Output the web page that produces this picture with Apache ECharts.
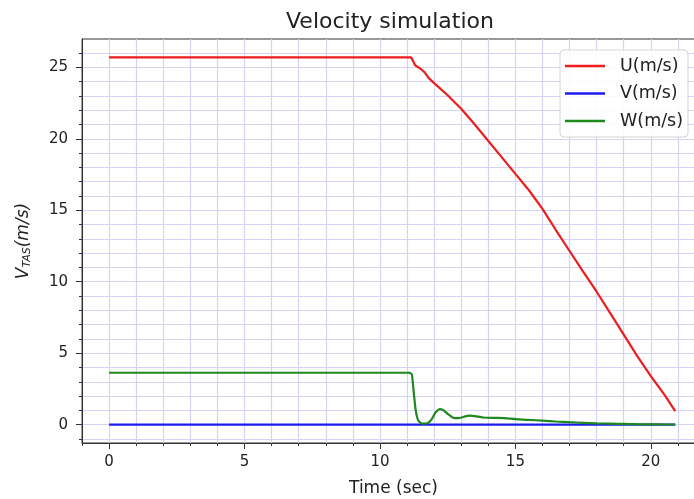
<!DOCTYPE html>
<html>
<head>
<meta charset="utf-8">
<script src="https://cdn.jsdelivr.net/npm/echarts@6/dist/echarts.min.js"></script>
<style>
    html, body { margin: 0; padding: 0; background: #fff; overflow: hidden; }
    #main { width: 694px; height: 499px; }
</style>
</head>
<body>
<div id="main"></div>
<script>
    // readings: time in sec, velocities in m/s
    var uTime = [0, 11.0, 11.15, 11.3, 11.5, 11.65, 11.8, 12.0, 12.5, 13.0, 13.5, 14.0, 14.5, 15.0, 15.5, 16.0, 16.5, 17.0, 17.5, 18.0, 18.5, 19.0, 19.5, 20.0, 20.5, 20.9];
    var uVals = [25.7, 25.7, 25.7, 25.15, 24.9, 24.65, 24.25, 23.9, 23.05, 22.1, 21.0, 19.85, 18.7, 17.55, 16.4, 15.1, 13.6, 12.15, 10.7, 9.3, 7.8, 6.3, 4.8, 3.4, 2.1, 0.95];

    var vTime = [0, 5, 10, 15, 20, 20.9];
    var vVals = [0, 0, 0, 0, 0, 0];

    var wTime = [0, 11.1, 11.18, 11.25, 11.32, 11.4, 11.5, 11.6, 11.75, 11.9, 12.05, 12.2, 12.35, 12.5, 12.7, 12.9, 13.1, 13.3, 13.5, 13.8, 14.2, 14.6, 15.0, 15.5, 16.0, 16.5, 17.0, 17.5, 18.0, 18.5, 19.0, 19.5, 20.0, 20.5, 20.9];
    var wVals = [3.63, 3.63, 3.5, 2.2, 1.0, 0.35, 0.12, 0.07, 0.09, 0.35, 0.85, 1.08, 1.0, 0.75, 0.48, 0.45, 0.55, 0.63, 0.6, 0.5, 0.47, 0.46, 0.38, 0.33, 0.28, 0.22, 0.17, 0.13, 0.09, 0.07, 0.05, 0.03, 0.02, 0.01, 0.01];

    var xMajor = [0, 5, 10, 15, 20];
    var yMajor = [0, 5, 10, 15, 20, 25];
    var yMinor = [-1, 0, 1, 2, 3, 4, 5, 6, 7, 8, 9, 10, 11, 12, 13, 14, 15, 16, 17, 18, 19, 20, 21, 22, 23, 24, 25, 26];

    function pairs(t, v) {
        return t.map(function (x, i) { return [x, v[i]]; });
    }

    var font = 'DejaVu Sans';
    var gridLine = { color: '#d3d3f6', width: 1.2 };
    var ink = '#222';

    var myChart = echarts.init(document.getElementById('main'));
    var option = {
        backgroundColor: '#fff',
        animation: false,
        title: {
            text: 'Velocity simulation',
            left: 385,
            top: 6,
            textAlign: 'center',
            textStyle: { fontFamily: font, fontSize: 22, fontWeight: 'normal', color: ink }
        },
        legend: {
            orient: 'vertical',
            left: 560,
            top: 50,
            icon: 'rect',
            itemWidth: 40,
            itemHeight: 2.5,
            itemGap: 9.5,
            padding: [7, 5, 7, 5],
            backgroundColor: 'rgba(255,255,255,0.85)',
            borderColor: '#d4d4d4',
            borderWidth: 1,
            borderRadius: 4,
            textStyle: { fontFamily: font, fontSize: 17.5, color: ink, padding: [0, 0, 0, 10] },
            data: ['U(m/s)', 'V(m/s)', 'W(m/s)']
        },
        grid: {
            left: 82,
            top: 39,
            width: 623,          // frame runs past the right edge, as in the source
            height: 404,
            outerBoundsMode: 'none',
            show: true,
            borderColor: '#333',
            borderWidth: 1,
            containLabel: false
        },
        xAxis: [
            {
                type: 'value',
                min: -1,
                max: 22,
                interval: 1,
                axisLine: { show: true, onZero: false, lineStyle: { color: '#333', width: 1 } },
                axisTick: { show: true, length: 3, lineStyle: { color: '#333' } },
                axisLabel: {
                    margin: 12,
                    fontFamily: font,
                    fontSize: 15,
                    color: ink,
                    formatter: function (v) { return xMajor.indexOf(v) >= 0 ? String(v) : ''; }
                },
                splitLine: { show: true, lineStyle: gridLine },
                name: 'Time (sec)',
                nameLocation: 'middle',
                nameGap: 37,
                nameTextStyle: { fontFamily: font, fontSize: 17, color: ink }
            },
            {
                type: 'value',
                min: -1,
                max: 22,
                position: 'bottom',
                axisLine: { show: false, onZero: false },
                axisTick: { show: true, length: 6, customValues: xMajor, lineStyle: { color: '#333' } },
                axisLabel: { show: false },
                splitLine: { show: false }
            }
        ],
        yAxis: [
            {
                type: 'value',
                min: -1.285,
                max: 26.985,
                axisLine: { show: true, onZero: false, lineStyle: { color: '#333', width: 1 } },
                axisTick: { show: true, length: 3, customValues: yMinor, lineStyle: { color: '#333' } },
                axisLabel: {
                    margin: 14,
                    customValues: yMajor,
                    fontFamily: font,
                    fontSize: 15,
                    color: ink
                },
                splitLine: { show: true, lineStyle: gridLine },
                name: '{v|V}{s|TAS}{v|(m/s)}',
                nameLocation: 'middle',
                nameRotate: 90,
                nameGap: 49,
                nameTextStyle: {
                    fontFamily: font,
                    fontSize: 17,
                    color: ink,
                    rich: {
                        v: { fontFamily: font, fontSize: 17, fontStyle: 'italic', color: ink },
                        s: { fontFamily: font, fontSize: 11, fontStyle: 'italic', color: ink, verticalAlign: 'bottom', padding: [7, 0, 0, 0] }
                    }
                }
            },
            {
                type: 'value',
                min: -1.285,
                max: 26.985,
                position: 'left',
                axisLine: { show: false, onZero: false },
                axisTick: { show: true, length: 6, customValues: yMajor, lineStyle: { color: '#333' } },
                axisLabel: { show: false },
                splitLine: { show: false }
            }
        ],
        series: [
            {
                name: 'U(m/s)',
                type: 'line',
                data: pairs(uTime, uVals),
                showSymbol: false,
                color: '#ee1c1c',
                lineStyle: { width: 2.2, color: '#ee1c1c' }
            },
            {
                name: 'V(m/s)',
                type: 'line',
                data: pairs(vTime, vVals),
                showSymbol: false,
                color: '#1c1cf0',
                lineStyle: { width: 2.2, color: '#1c1cf0' }
            },
            {
                name: 'W(m/s)',
                type: 'line',
                data: pairs(wTime, wVals),
                showSymbol: false,
                smooth: 0.15,
                color: '#1e8a1e',
                lineStyle: { width: 2.2, color: '#1e8a1e' }
            }
        ]
    };
    myChart.setOption(option);
</script>
</body>
</html>
